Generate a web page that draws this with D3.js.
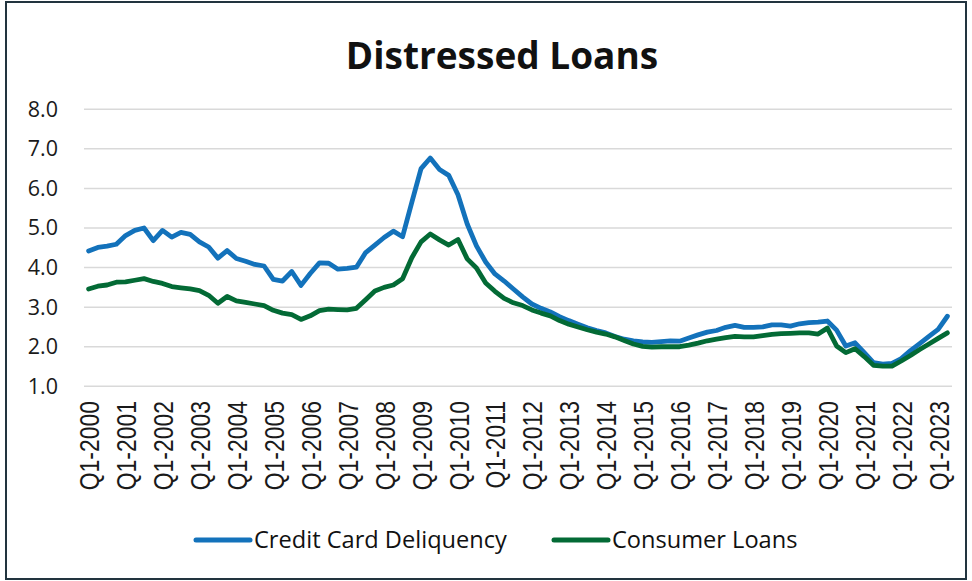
<!DOCTYPE html>
<html>
<head>
<meta charset="utf-8">
<script src="https://cdn.jsdelivr.net/npm/d3@7"></script>
<style>
  html, body { margin: 0; padding: 0; background: #fff; }
  svg { display: block; }
</style>
</head>
<body>
<svg id="chart" width="972" height="581"></svg>
<script>
// Quarterly series, Q1-2000 through Q2-2023 (percent)
const years = d3.range(2000, 2024);
const quarters = ["Q1", "Q2", "Q3", "Q4"];
const categories = years.flatMap(y => quarters.map(q => `${q}-${y}`)).slice(0, 94);

const creditCard = [
  4.42, 4.51, 4.54, 4.59, 4.81, 4.94, 5.00, 4.68, 4.94, 4.77,
  4.89, 4.84, 4.65, 4.52, 4.24, 4.43, 4.23, 4.16, 4.08, 4.04,
  3.70, 3.66, 3.90, 3.55, 3.85, 4.12, 4.11, 3.96, 3.98, 4.01,
  4.38, 4.57, 4.76, 4.92, 4.78, 5.65, 6.50, 6.77, 6.48, 6.33,
  5.84, 5.10, 4.55, 4.14, 3.84, 3.66, 3.46, 3.26, 3.08, 2.97,
  2.88, 2.76, 2.66, 2.57, 2.48, 2.41, 2.35, 2.26, 2.19, 2.15,
  2.12, 2.11, 2.13, 2.15, 2.14, 2.22, 2.30, 2.37, 2.41, 2.49,
  2.54, 2.49, 2.49, 2.50, 2.55, 2.55, 2.52, 2.58, 2.61, 2.62,
  2.65, 2.42, 2.02, 2.10, 1.85, 1.60, 1.56, 1.58, 1.70, 1.90,
  2.08, 2.26, 2.44, 2.77
];

const consumerLoans = [
  3.46, 3.53, 3.56, 3.63, 3.64, 3.68, 3.72, 3.65, 3.60, 3.52,
  3.49, 3.46, 3.42, 3.30, 3.10, 3.27, 3.16, 3.12, 3.08, 3.04,
  2.92, 2.85, 2.81, 2.69, 2.78, 2.91, 2.95, 2.94, 2.93, 2.97,
  3.19, 3.41, 3.50, 3.56, 3.72, 4.25, 4.65, 4.85, 4.70, 4.57,
  4.71, 4.22, 3.99, 3.61, 3.40, 3.22, 3.11, 3.04, 2.93, 2.85,
  2.78, 2.66, 2.57, 2.50, 2.43, 2.37, 2.32, 2.25, 2.16, 2.07,
  2.01, 1.99, 2.00, 2.00, 2.00, 2.04, 2.09, 2.15, 2.19, 2.23,
  2.26, 2.25, 2.25, 2.28, 2.31, 2.33, 2.34, 2.35, 2.35, 2.32,
  2.47, 2.02, 1.85, 1.95, 1.75, 1.53, 1.51, 1.51, 1.64, 1.78,
  1.93, 2.07, 2.21, 2.35
];

const yTicks = [1, 2, 3, 4, 5, 6, 7, 8];

const seriesNames = ["Credit Card Deliquency", "Consumer Loans"];
const seriesColors = ["#1372bb", "#036a35"];
const seriesValues = [creditCard, consumerLoans];

const svg = d3.select("#chart");
const W = 972, H = 581;

// frame
svg.append("rect")
  .attr("x", 6).attr("y", 2)
  .attr("width", W - 12).attr("height", H - 4)
  .attr("fill", "#fff")
  .attr("stroke", "#22343f")
  .attr("stroke-width", 2);

// title
svg.append("text")
  .attr("x", 502).attr("y", 69)
  .attr("text-anchor", "middle")
  .attr("font-family", "'Open Sans', sans-serif")
  .attr("font-weight", 700)
  .attr("font-size", 37)
  .attr("fill", "#111")
  .text("Distressed Loans");

const x = d3.scalePoint()
  .domain(categories)
  .range([84, 952])
  .padding(0.5);

const y = d3.scaleLinear()
  .domain([1, 8])
  .range([386.3, 109.3]);

// gridlines
svg.append("g")
  .selectAll("line")
  .data(yTicks)
  .join("line")
  .attr("x1", 84).attr("x2", 952)
  .attr("y1", d => y(d)).attr("y2", d => y(d))
  .attr("stroke", "#d9d9d9")
  .attr("stroke-width", 1.5);

// y axis labels
const yAxis = d3.axisLeft(y)
  .tickValues(yTicks)
  .tickFormat(d3.format(".1f"))
  .tickSize(0)
  .tickPadding(0);

svg.append("g")
  .attr("transform", "translate(58,0)")
  .call(yAxis)
  .call(g => g.select(".domain").remove())
  .call(g => g.selectAll("text")
    .attr("font-family", "'Open Sans', sans-serif")
    .attr("font-size", 21.5)
    .attr("fill", "#1a1a1a"));

// x axis labels (one per year, rotated)
const xTickVals = categories.filter(c => c.startsWith("Q1"));
const xAxis = d3.axisBottom(x)
  .tickValues(xTickVals)
  .tickSize(0)
  .tickPadding(0);

svg.append("g")
  .attr("transform", "translate(0,401)")
  .call(xAxis)
  .call(g => g.select(".domain").remove())
  .call(g => g.selectAll("text")
    .attr("font-family", "'Liberation Sans', Arial, sans-serif")
    .attr("font-size", 28)
    .attr("fill", "#1a1a1a")
    .attr("text-anchor", "end")
    .attr("dy", "0.36em")
    .attr("y", 0)
    .attr("transform", "rotate(-90) scale(0.82,1)"));

// lines
const line = d3.line()
  .x((d, i) => x(categories[i]))
  .y(d => y(d));

seriesValues.forEach((vals, k) => {
  svg.append("path")
    .datum(vals)
    .attr("fill", "none")
    .attr("stroke", seriesColors[k])
    .attr("stroke-width", 4.8)
    .attr("stroke-linejoin", "round")
    .attr("stroke-linecap", "round")
    .attr("d", line);
});

// legend
const legendX = [196, 554];
const legend = svg.append("g");
seriesNames.forEach((name, k) => {
  legend.append("line")
    .attr("x1", legendX[k]).attr("x2", legendX[k] + 54)
    .attr("y1", 540).attr("y2", 540)
    .attr("stroke", seriesColors[k])
    .attr("stroke-width", 5)
    .attr("stroke-linecap", "round");
  legend.append("text")
    .attr("x", legendX[k] + 58).attr("y", 540)
    .attr("dy", "0.36em")
    .attr("font-family", "'Open Sans', sans-serif")
    .attr("font-size", 23.6)
    .attr("fill", "#111")
    .text(name);
});
</script>
</body>
</html>
